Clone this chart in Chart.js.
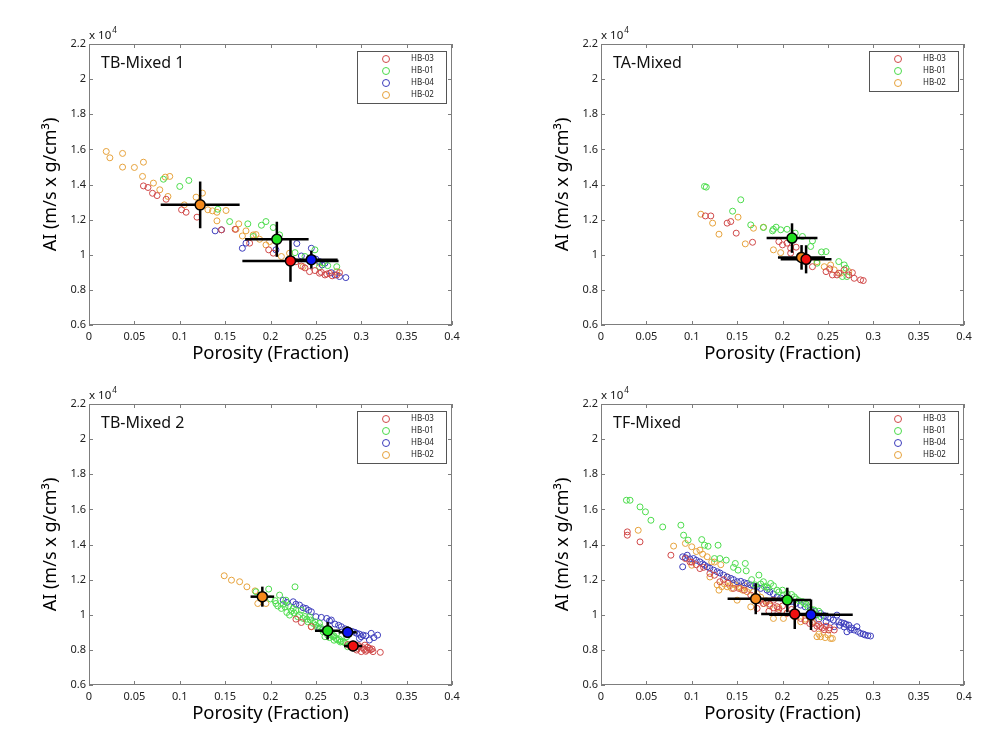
<!DOCTYPE html>
<html>
<head>
<meta charset="utf-8">
<script src="https://cdn.jsdelivr.net/npm/chart.js@4.4.1/dist/chart.umd.min.js"></script>
<style>
  html, body { margin: 0; padding: 0; background: #fff; overflow: hidden; }
  body { width: 1006px; height: 740px; position: relative; }
  canvas { position: absolute; }
</style>
</head>
<body>
<canvas id="p1" width="500" height="370" style="left:0;top:0"></canvas>
<canvas id="p2" width="494" height="370" style="left:512px;top:0"></canvas>
<canvas id="p3" width="500" height="370" style="left:0;top:360px"></canvas>
<canvas id="p4" width="494" height="370" style="left:512px;top:360px"></canvas>
<script>
// axis ticks (AI in units of 10^4)
const xTickValues = [0, 0.05, 0.1, 0.15, 0.2, 0.25, 0.3, 0.35, 0.4];
const yTickValues = [0.6, 0.8, 1, 1.2, 1.4, 1.6, 1.8, 2, 2.2];

const wellColors = { 'HB-03': '#d04848', 'HB-01': '#4cdc4c', 'HB-04': '#3c3cbc', 'HB-02': '#e6a23c' };
const meanColors = { 'HB-03': '#f01010', 'HB-01': '#22e022', 'HB-04': '#0a14f0', 'HB-02': '#f58a1c' };

// ---- TB-Mixed 1 ----
const tb1Wells = ['HB-03', 'HB-01', 'HB-04', 'HB-02'];
const tb1_HB03 = [[0.060,1.392],[0.065,1.383],[0.070,1.350],[0.075,1.337],[0.085,1.316],[0.102,1.256],[0.107,1.242],[0.119,1.214],[0.146,1.142],[0.161,1.145],[0.177,1.066],[0.198,1.028],[0.203,1.009],[0.234,0.936],[0.243,0.904],[0.249,0.910],[0.254,0.895],[0.260,0.885],[0.265,0.895],[0.276,0.898],[0.273,0.885],[0.238,0.925],[0.256,0.900],[0.262,0.890],[0.268,0.880],[0.228,0.960]];
const tb1_HB01 = [[0.082,1.430],[0.100,1.389],[0.110,1.423],[0.142,1.259],[0.155,1.189],[0.175,1.176],[0.190,1.168],[0.195,1.189],[0.203,1.155],[0.210,1.113],[0.181,1.104],[0.227,1.012],[0.238,0.990],[0.249,1.028],[0.254,0.932],[0.263,0.938],[0.273,0.932],[0.243,0.971],[0.258,0.955]];
const tb1_HB04 = [[0.139,1.136],[0.146,1.142],[0.169,1.037],[0.173,1.066],[0.206,1.028],[0.229,1.064],[0.234,0.993],[0.245,1.037],[0.254,0.961],[0.257,0.942],[0.267,0.898],[0.271,0.885],[0.276,0.876],[0.283,0.870],[0.260,0.952],[0.250,0.975]];
const tb1_HB02 = [[0.019,1.588],[0.023,1.552],[0.037,1.577],[0.037,1.499],[0.050,1.497],[0.060,1.527],[0.059,1.446],[0.071,1.408],[0.078,1.370],[0.084,1.442],[0.089,1.446],[0.087,1.332],[0.105,1.284],[0.118,1.328],[0.125,1.351],[0.131,1.256],[0.136,1.250],[0.141,1.242],[0.141,1.193],[0.151,1.252],[0.162,1.145],[0.165,1.176],[0.169,1.107],[0.173,1.136],[0.181,1.113],[0.184,1.115],[0.188,1.088],[0.195,1.056],[0.199,1.075],[0.212,0.990],[0.221,1.009],[0.236,0.932],[0.254,0.952],[0.273,0.904]];
const tb1MeanX = [0.222, 0.207, 0.245, 0.1225];
const tb1MeanY = [0.965, 1.088, 0.972, 1.284];
const tb1ErrX = [0.053, 0.035, 0.029, 0.0435];
const tb1ErrY = [0.119, 0.100, 0.051, 0.133];

// ---- TA-Mixed ----
const taWells = ['HB-03', 'HB-01', 'HB-02'];
const ta_HB03 = [[0.115,1.221],[0.121,1.221],[0.139,1.180],[0.143,1.189],[0.149,1.123],[0.167,1.071],[0.196,1.075],[0.200,1.056],[0.205,1.066],[0.209,1.037],[0.215,1.043],[0.209,1.009],[0.233,0.932],[0.248,0.904],[0.255,0.885],[0.260,0.885],[0.268,0.914],[0.273,0.885],[0.277,0.898],[0.279,0.866],[0.286,0.857],[0.289,0.853],[0.262,0.895],[0.252,0.920]];
const ta_HB01 = [[0.114,1.389],[0.116,1.385],[0.154,1.313],[0.145,1.248],[0.165,1.170],[0.179,1.155],[0.189,1.136],[0.190,1.145],[0.193,1.157],[0.198,1.142],[0.205,1.145],[0.214,1.123],[0.222,1.104],[0.233,1.079],[0.243,1.016],[0.248,1.018],[0.262,0.961],[0.268,0.942],[0.270,0.923],[0.271,0.876],[0.266,0.876],[0.231,1.047],[0.238,0.952]];
const ta_HB02 = [[0.110,1.231],[0.123,1.180],[0.130,1.117],[0.151,1.214],[0.159,1.062],[0.168,1.151],[0.179,1.157],[0.190,1.028],[0.198,1.012],[0.220,0.999],[0.238,0.961],[0.246,0.932],[0.253,0.942],[0.257,0.914],[0.264,0.895],[0.273,0.904]];
const taMeanX = [0.226, 0.2105, 0.221];
const taMeanY = [0.974, 1.095, 0.985];
const taErrX = [0.028, 0.028, 0.026];
const taErrY = [0.080, 0.084, 0.070];

// ---- TB-Mixed 2 ----
const tb2Wells = ['HB-03', 'HB-01', 'HB-04', 'HB-02'];
const tb2_HB03 = [[0.228,0.975],[0.234,0.956],[0.245,0.932],[0.298,0.818],[0.304,0.827],[0.306,0.799],[0.309,0.809],[0.313,0.790],[0.321,0.786],[0.295,0.799],[0.300,0.790],[0.285,0.830],[0.302,0.812],
    [0.290,0.815],[0.296,0.808],[0.303,0.803],[0.307,0.815],[0.310,0.800],[0.305,0.792],[0.312,0.805],[0.297,0.825],[0.288,0.820]];
const tb2_HB01 = [[0.184,1.131],[0.198,1.146],[0.210,1.112],[0.217,1.083],[0.212,1.036],[0.218,1.013],[0.225,1.036],[0.227,1.159],[0.230,0.989],[0.236,0.979],[0.241,0.960],[0.247,0.951],[0.252,0.922],[0.258,0.903],[0.263,0.884],[0.269,0.875],[0.274,0.856],[0.280,0.846],[0.285,0.818],[0.206,1.064],[0.221,0.998],[0.234,1.026],[0.243,0.989],[0.254,0.951],[0.260,0.875],[0.273,0.894],[0.284,0.875],[0.291,0.822],
    [0.200,1.090],[0.205,1.080],[0.208,1.050],[0.214,1.060],[0.216,1.045],[0.220,1.050],[0.223,1.020],[0.226,1.010],[0.228,1.025],[0.232,1.000],[0.238,0.990],[0.240,0.975],[0.244,0.970],[0.249,0.960],[0.250,0.940],[0.255,0.930],[0.257,0.915],[0.262,0.900],[0.266,0.890],[0.270,0.880],[0.272,0.865],[0.276,0.860],[0.278,0.850],[0.282,0.840],[0.287,0.830],[0.265,0.870],[0.270,0.855],[0.277,0.845]];
const tb2_HB04 = [[0.214,1.083],[0.225,1.074],[0.232,1.055],[0.239,1.036],[0.245,1.017],[0.250,0.989],[0.262,0.979],[0.267,0.970],[0.271,0.947],[0.278,0.932],[0.287,0.909],[0.295,0.894],[0.302,0.884],[0.311,0.894],[0.318,0.884],[0.309,0.856],[0.298,0.865],[0.254,0.922],
    [0.218,1.070],[0.228,1.060],[0.236,1.040],[0.242,1.025],[0.256,0.985],[0.265,0.965],[0.275,0.940],[0.282,0.920],[0.290,0.905],[0.293,0.900],[0.298,0.890],[0.305,0.880],[0.314,0.870],[0.300,0.875]];
const tb2_HB02 = [[0.149,1.222],[0.157,1.197],[0.166,1.188],[0.174,1.159],[0.183,1.136],[0.186,1.064],[0.195,1.064],[0.245,0.932]];
const tb2MeanX = [0.291, 0.263, 0.285, 0.191];
const tb2MeanY = [0.822, 0.909, 0.900, 1.103];
const tb2ErrX = [0.010, 0.014, 0.010, 0.013];
const tb2ErrY = [0.030, 0.050, 0.033, 0.057];

// ---- TF-Mixed ----
const tfWells = ['HB-03', 'HB-01', 'HB-04', 'HB-02'];
const tf_HB03 = [[0.029,1.472],[0.029,1.453],[0.043,1.415],[0.077,1.339],[0.093,1.320],[0.098,1.301],[0.109,1.263],[0.120,1.235],[0.131,1.188],[0.146,1.150],[0.165,1.112],[0.179,1.064],[0.194,1.046],[0.205,1.008],[0.220,0.979],[0.233,0.951],[0.242,0.932],[0.251,0.913],[0.257,0.913],[0.190,1.083],[0.172,1.036],[0.235,0.922],
    [0.100,1.300],[0.105,1.285],[0.113,1.270],[0.125,1.225],[0.135,1.200],[0.140,1.180],[0.152,1.150],[0.158,1.140],[0.170,1.100],[0.175,1.080],[0.182,1.070],[0.186,1.060],[0.190,1.040],[0.196,1.030],[0.200,1.050],[0.210,1.030],[0.215,0.990],[0.225,0.965],[0.230,0.950],[0.238,0.935],[0.240,0.945],[0.244,0.925],[0.246,0.915],[0.248,0.935],[0.252,0.925],[0.185,1.020],[0.195,1.015]];
const tf_HB01 = [[0.028,1.652],[0.032,1.652],[0.043,1.614],[0.049,1.586],[0.055,1.538],[0.068,1.500],[0.088,1.510],[0.091,1.453],[0.096,1.425],[0.111,1.428],[0.114,1.396],[0.129,1.396],[0.131,1.320],[0.138,1.311],[0.148,1.292],[0.151,1.254],[0.159,1.292],[0.174,1.226],[0.179,1.188],[0.187,1.178],[0.183,1.159],[0.194,1.140],[0.201,1.112],[0.213,1.102],[0.224,1.064],[0.235,1.027],[0.242,0.989],[0.231,0.979],
    [0.170,1.170],[0.176,1.175],[0.180,1.160],[0.184,1.150],[0.190,1.165],[0.196,1.130],[0.200,1.140],[0.205,1.120],[0.210,1.115],[0.215,1.090],[0.218,1.080],[0.222,1.075],[0.226,1.060],[0.228,1.045],[0.232,1.030],[0.238,1.000],[0.240,1.020],[0.166,1.200],[0.160,1.250],[0.146,1.270],[0.118,1.390],[0.125,1.320]];
const tf_HB04 = [[0.090,1.330],[0.090,1.273],[0.095,1.339],[0.102,1.320],[0.109,1.301],[0.117,1.273],[0.124,1.254],[0.135,1.226],[0.143,1.207],[0.150,1.188],[0.161,1.178],[0.172,1.159],[0.183,1.140],[0.194,1.102],[0.205,1.083],[0.220,1.055],[0.231,1.027],[0.242,1.008],[0.253,0.979],[0.260,0.998],[0.268,0.951],[0.273,0.941],[0.279,0.913],[0.286,0.894],[0.294,0.881],[0.297,0.879],[0.257,0.932],[0.271,0.903],[0.282,0.932],
    [0.093,1.325],[0.098,1.318],[0.105,1.310],[0.112,1.290],[0.114,1.282],[0.120,1.265],[0.128,1.245],[0.131,1.238],[0.139,1.215],[0.146,1.200],[0.154,1.190],[0.158,1.182],[0.165,1.170],[0.168,1.165],[0.176,1.150],[0.186,1.130],[0.190,1.118],[0.198,1.095],[0.210,1.075],[0.215,1.065],[0.225,1.045],[0.236,1.018],[0.246,0.995],[0.250,0.985],[0.256,0.970],[0.262,0.960],[0.265,0.955],[0.270,0.945],[0.276,0.925],[0.283,0.905],[0.289,0.890],[0.291,0.885],[0.263,0.940],[0.268,0.930],[0.275,0.915],[0.248,0.960],[0.240,0.975],[0.230,1.000]];
const tf_HB02 = [[0.041,1.481],[0.080,1.391],[0.093,1.406],[0.100,1.387],[0.109,1.368],[0.117,1.330],[0.122,1.301],[0.100,1.282],[0.130,1.140],[0.139,1.159],[0.146,1.178],[0.154,1.150],[0.161,1.131],[0.165,1.045],[0.179,1.064],[0.190,0.979],[0.201,0.979],[0.213,0.989],[0.220,0.960],[0.238,0.875],[0.242,0.875],[0.253,0.865],[0.255,0.865],[0.139,1.216],[0.150,1.083],
    [0.128,1.170],[0.133,1.160],[0.136,1.175],[0.142,1.165],[0.144,1.150],[0.148,1.170],[0.152,1.160],[0.156,1.140],[0.158,1.165],[0.163,1.150],[0.168,1.130],[0.172,1.120],[0.176,1.100],[0.182,1.080],[0.186,1.050],[0.196,1.040],[0.205,1.010],[0.225,0.975],[0.233,0.960],[0.240,0.890],[0.247,0.870],[0.250,0.885],[0.105,1.360],[0.112,1.345],[0.125,1.300],[0.132,1.285],[0.120,1.215],[0.230,0.990]];
const tfMeanX = [0.2135, 0.2053, 0.2314, 0.1705];
const tfMeanY = [1.004, 1.084, 1.000, 1.091];
const tfErrX = [0.037, 0.026, 0.046, 0.031];
const tfErrY = [0.085, 0.070, 0.087, 0.088];

Chart.defaults.font.family = '"Noto Sans", "Open Sans", sans-serif';

const framePlugin = {
    id: 'frame',
    afterDatasetsDraw(chart, args, opts) {
        const { ctx, chartArea: a, scales: { x, y } } = chart;
        ctx.save();
        // box + inward ticks
        ctx.strokeStyle = '#7d7d7d';
        ctx.lineWidth = 1;
        ctx.strokeRect(a.left + 0.5, a.top + 0.5, a.right - a.left - 1, a.bottom - a.top - 1);
        ctx.beginPath();
        x.ticks.forEach(t => {
            const px = Math.round(x.getPixelForValue(t.value)) + 0.5;
            ctx.moveTo(px, a.bottom); ctx.lineTo(px, a.bottom - 4);
            ctx.moveTo(px, a.top); ctx.lineTo(px, a.top + 4);
        });
        y.ticks.forEach(t => {
            const py = Math.round(y.getPixelForValue(t.value)) + 0.5;
            ctx.moveTo(a.left, py); ctx.lineTo(a.left + 4, py);
            ctx.moveTo(a.right, py); ctx.lineTo(a.right - 4, py);
        });
        ctx.stroke();

        // panel name
        ctx.fillStyle = '#111';
        ctx.textBaseline = 'middle';
        ctx.font = '16px "Noto Sans"';
        ctx.fillText(opts.name, a.left + 12, a.top + 19);

        // exponent label
        ctx.textBaseline = 'alphabetic';
        ctx.font = '11.5px "Noto Sans"';
        ctx.fillText('x 10', a.left, a.top - 5);
        const w = ctx.measureText('x 10').width;
        ctx.font = '8px "Noto Sans"';
        ctx.fillText('4', a.left + w + 1, a.top - 11);

        // legend box
        const rows = opts.wells.length;
        const bw = 89, bh = rows * 12 + 4;
        const bx = a.right - 6 - bw, by = a.top + 7;
        ctx.fillStyle = '#fff';
        ctx.fillRect(bx, by, bw, bh);
        ctx.strokeStyle = '#555';
        ctx.strokeRect(bx + 0.5, by + 0.5, bw, bh);
        ctx.font = '8px "Noto Sans"';
        ctx.textBaseline = 'middle';
        opts.wells.forEach((wl, i) => {
            const cy = by + 8 + i * 12;
            ctx.beginPath();
            ctx.strokeStyle = wellColors[wl];
            ctx.arc(bx + 29, cy, 3.5, 0, Math.PI * 2);
            ctx.stroke();
            ctx.fillStyle = '#222';
            ctx.fillText(wl, bx + 54, cy);
        });
        ctx.restore();
    }
};

function makePanel(id, name, wells, series, meanX, meanY, errX, errY, rightPad) {
    const datasets = [];
    wells.forEach((wl, i) => {
        datasets.push({
            label: wl,
            data: series[i].map(p => ({ x: p[0], y: p[1] })),
            pointRadius: 3,
            pointBorderWidth: 1,
            borderColor: wellColors[wl],
            backgroundColor: 'rgba(0,0,0,0)',
            order: 3
        });
    });
    wells.forEach((wl, i) => {
        datasets.push({
            label: wl + ' sx',
            data: [{ x: meanX[i] - errX[i], y: meanY[i] }, { x: meanX[i] + errX[i], y: meanY[i] }],
            showLine: true, pointRadius: 0, borderColor: '#000', borderWidth: 2.5, order: 2
        });
        datasets.push({
            label: wl + ' sy',
            data: [{ x: meanX[i], y: meanY[i] - errY[i] }, { x: meanX[i], y: meanY[i] + errY[i] }],
            showLine: true, pointRadius: 0, borderColor: '#000', borderWidth: 2.5, order: 2
        });
    });
    wells.forEach((wl, i) => {
        datasets.push({
            label: wl + ' mean',
            data: [{ x: meanX[i], y: meanY[i] }],
            pointRadius: 5,
            pointBorderWidth: 1.5,
            borderColor: '#000',
            backgroundColor: meanColors[wl],
            order: 1
        });
    });

    new Chart(document.getElementById(id), {
        type: 'scatter',
        data: { datasets: datasets },
        plugins: [framePlugin],
        options: {
            responsive: false,
            animation: false,
            events: [],
            layout: { padding: { left: 0, right: rightPad, top: 44, bottom: 0 } },
            plugins: {
                legend: { display: false },
                tooltip: { enabled: false },
                frame: { name: name, wells: wells }
            },
            scales: {
                x: {
                    type: 'linear', min: 0, max: 0.4,
                    afterBuildTicks: s => { s.ticks = xTickValues.map(v => ({ value: v })); },
                    afterFit: s => { s.height = 45; },
                    grid: { display: false, drawTicks: false },
                    border: { display: false },
                    ticks: { padding: 5, color: '#222', font: { size: 11 }, callback: v => String(+v.toFixed(2)) },
                    title: { display: true, text: 'Porosity (Fraction)', color: '#000', font: { size: 18.5 }, padding: { top: 0, bottom: 5 } }
                },
                y: {
                    type: 'linear', min: 0.6, max: 2.2,
                    afterBuildTicks: s => { s.ticks = yTickValues.map(v => ({ value: v })); },
                    afterFit: s => { s.width = 89; },
                    grid: { display: false, drawTicks: false },
                    border: { display: false },
                    ticks: { padding: 3, color: '#222', font: { size: 11 }, callback: v => String(+v.toFixed(1)) },
                    title: { display: true, text: 'AI (m/s x g/cm\u00B3)', color: '#000', font: { size: 18 }, padding: { top: 40, bottom: 0 } }
                }
            }
        }
    });
}

makePanel('p1', 'TB-Mixed 1', tb1Wells, [tb1_HB03, tb1_HB01, tb1_HB04, tb1_HB02], tb1MeanX, tb1MeanY, tb1ErrX, tb1ErrY, 48);
makePanel('p2', 'TA-Mixed', taWells, [ta_HB03, ta_HB01, ta_HB02], taMeanX, taMeanY, taErrX, taErrY, 42);
makePanel('p3', 'TB-Mixed 2', tb2Wells, [tb2_HB03, tb2_HB01, tb2_HB04, tb2_HB02], tb2MeanX, tb2MeanY, tb2ErrX, tb2ErrY, 48);
makePanel('p4', 'TF-Mixed', tfWells, [tf_HB03, tf_HB01, tf_HB04, tf_HB02], tfMeanX, tfMeanY, tfErrX, tfErrY, 42);
</script>
</body>
</html>
